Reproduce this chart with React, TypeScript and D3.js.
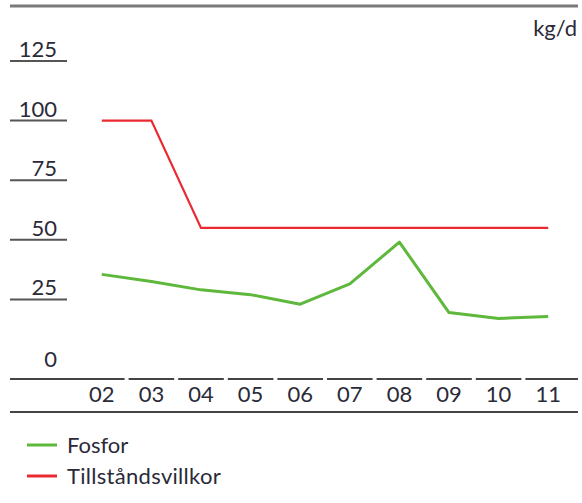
import React from "react";
import * as d3 from "d3";

const categories = ["02", "03", "04", "05", "06", "07", "08", "09", "10", "11"];
const fosfor = [35.5, 32.5, 29, 27, 23, 31.5, 49, 19.5, 17, 17.8];
const villkor = [100, 100, 55, 55, 55, 55, 55, 55, 55, 55];
const yTicks = [125, 100, 75, 50, 25];
const unitLabel = "kg/d";
const seriesNames = ["Fosfor", "Tillståndsvillkor"];

const W = 582;
const H = 503;
const FONT = "Lato, 'Noto Sans', sans-serif";
const TEXT = "#2a2a38";
const GREEN = "#5db83b";
const RED = "#ea2a30";

export default function App() {
  const y = d3.scaleLinear().domain([0, 125]).range([359, 61]);
  const x = d3.scaleBand<string>().domain(categories).range([77, 573]);
  const bw = x.bandwidth();
  const cx = (c: string) => (x(c) as number) + bw / 2;
  const line = d3
    .line<number>()
    .x((_, i) => cx(categories[i]))
    .y((d) => y(d));
  const baseY = 379;
  return (
    <svg width={W} height={H} style={{ position: "absolute", left: 0, top: 0 }} fontFamily={FONT}>
      <rect width={W} height={H} fill="#fff" />
      <line x1={10} x2={578} y1={6} y2={6} stroke="#7a7a7a" strokeWidth={3} />
      <text x={577} y={36} textAnchor="end" fontSize={22} fill={TEXT}>{unitLabel}</text>
      {yTicks.map((t) => (
        <g key={t}>
          <line x1={10} x2={67} y1={y(t)} y2={y(t)} stroke="#555" strokeWidth={2} />
          <text x={57} y={y(t) - 4} textAnchor="end" fontSize={22} fill={TEXT}>{t}</text>
        </g>
      ))}
      <text x={57} y={367} textAnchor="end" fontSize={22} fill={TEXT}>0</text>
      {categories.map((c, i) => {
        const x0 = i === 0 ? 10 : (x(c) as number) + 2;
        const x1 = i === categories.length - 1 ? 578 : (x(c) as number) + bw - 2;
        return (
          <g key={c}>
            <line x1={x0} x2={x1} y1={baseY} y2={baseY} stroke="#444" strokeWidth={2} />
            <text x={cx(c)} y={402} textAnchor="middle" fontSize={22} fill={TEXT}>{c}</text>
          </g>
        );
      })}
      <line x1={10} x2={578} y1={412} y2={412} stroke="#444" strokeWidth={2} />
      <path d={line(villkor) || ""} fill="none" stroke={RED} strokeWidth={2.2} />
      <path d={line(fosfor) || ""} fill="none" stroke={GREEN} strokeWidth={3} strokeLinejoin="round" />
      <line x1={27} x2={57} y1={445} y2={445} stroke={GREEN} strokeWidth={3} />
      <text x={67} y={453} fontSize={22} fill={TEXT}>{seriesNames[0]}</text>
      <line x1={27} x2={57} y1={476} y2={476} stroke={RED} strokeWidth={3} />
      <text x={67} y={484} fontSize={22} fill={TEXT} letterSpacing={0.3}>{seriesNames[1]}</text>
    </svg>
  );
}
